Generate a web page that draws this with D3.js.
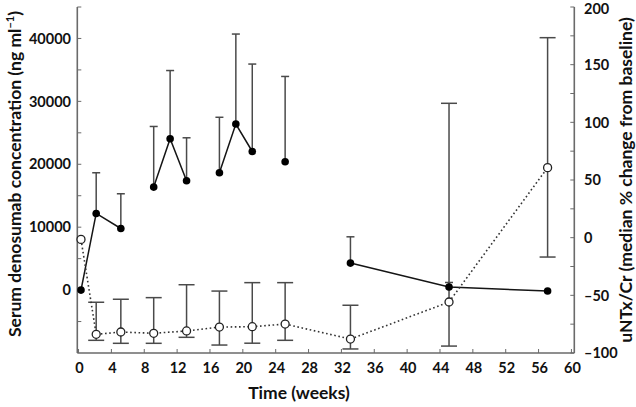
<!DOCTYPE html>
<html><head><meta charset="utf-8">
<script src="https://cdn.jsdelivr.net/npm/d3@7"></script>
<style>
body{margin:0;background:#fff}
svg{display:block}
text{font-family:Lato,'Open Sans',sans-serif;font-weight:bold;fill:#111}
</style>
</head><body>
<svg id="c" width="636" height="407"></svg>
<script>
// ---- data ----
const denoWeeks = [0.3, 2.15, 5.15, 9.15, 11.15, 13.15, 17.15, 19.15, 21.15, 25.15, 33.1, 45.1, 57.1];
const denosumab = [0, 12180, 9790, 16375, 24050, 17380, 18650, 26390, 22030, 20400, 4290, 480, -150];
const denosumabUpper = [null, 18650, 15310, 26010, 34900, 24210, 27470, 40700, 35930, 33960, 8470, 1210, null];
const denosumabSegment = [0, 0, 0, 1, 1, 1, 2, 2, 2, 3, 4, 4, 4];

const untxWeeks = [0.3, 2.15, 5.15, 9.15, 13.15, 17.15, 21.15, 25.15, 33.1, 45.1, 57.1];
const untx = [-1.5, -83.8, -81.8, -82.9, -80.9, -77.5, -77.2, -74.9, -87.9, -55.8, 60.7];
const untxLow = [null, -89, -91.6, -91.6, -86.4, -93.1, -91.5, -89, -96.5, -94, -16.8];
const untxHigh = [null, -56, -53.4, -52, -40.8, -46.3, -39, -39, -58.6, 116.5, 173.4];

const xTicks = d3.range(0, 61, 4);
const leftTicks = [0, 10000, 20000, 30000, 40000];
const leftMinor = d3.range(-5000, 45001, 5000);
const rightTicks = [-100, -50, 0, 50, 100, 150, 200];
const rightMinor = d3.range(-100, 201, 25);

const xTitle = "Time (weeks)";
const leftTitle = "Serum denosumab concentration (ng ml";
const rightTitle = "uNTx/Cr (median % change from baseline)";

// ---- layout ----
const svg = d3.select("#c");
const L = 77.3, R = 574.3, T = 7, B = 353;
const x = d3.scaleLinear().domain([-0.15, 60.35]).range([L, R]);
const yL = d3.scaleLinear().domain([-10000, 45000]).range([B, T]);
const yR = d3.scaleLinear().domain([-100, 200]).range([B, T]);

const axisCol = "#6a6a6a";
const ink = "#151515";
const errCol = "#4a4a4a";

// axes frame lines
const ax = svg.append("g").attr("stroke", axisCol).attr("stroke-width", 1.6).attr("fill", "none");
ax.append("line").attr("x1", L).attr("x2", L).attr("y1", T).attr("y2", B);
ax.append("line").attr("x1", R).attr("x2", R).attr("y1", T).attr("y2", B);
ax.append("line").attr("x1", L).attr("x2", R).attr("y1", B).attr("y2", B);

// ticks (inward)
const tk = svg.append("g").attr("stroke", axisCol).attr("stroke-width", 1);
leftMinor.forEach(v => tk.append("line").attr("x1", L).attr("x2", L + 4).attr("y1", yL(v)).attr("y2", yL(v)));
rightMinor.forEach(v => tk.append("line").attr("x1", R).attr("x2", R - 4).attr("y1", yR(v)).attr("y2", yR(v)));
xTicks.forEach(v => tk.append("line").attr("x1", x(v)).attr("x2", x(v)).attr("y1", B).attr("y2", B - 4));

// tick labels
const fs = 14.5;
leftTicks.forEach(v => svg.append("text").attr("x", 71).attr("y", yL(v)).attr("dy", "0.36em")
  .attr("text-anchor", "end").attr("font-size", fs).text(v));
rightTicks.forEach(v => svg.append("text").attr("x", 584).attr("y", Math.max(yR(v), 9)).attr("dy", "0.36em")
  .attr("text-anchor", "start").attr("font-size", fs).text(v < 0 ? "\u2013" + Math.abs(v) : v));
xTicks.forEach(v => svg.append("text").attr("x", x(v) + 1).attr("y", 368).attr("dy", "0.36em")
  .attr("text-anchor", "middle").attr("font-size", fs).text(v));

// titles
const tfs = 17.5;
svg.append("text").attr("x", 299).attr("y", 399).attr("text-anchor", "middle").attr("font-size", tfs).text(xTitle);
const lt = svg.append("text").attr("transform", "translate(21,174) rotate(-90)").attr("text-anchor", "middle").attr("font-size", tfs);
lt.append("tspan").text(leftTitle);
lt.append("tspan").attr("dy", -7).attr("font-size", 11).text("\u22121");
lt.append("tspan").attr("dy", 7).text(")");
svg.append("text").attr("transform", "translate(632,180) rotate(-90)").attr("text-anchor", "middle").attr("font-size", tfs).text(rightTitle);

// ---- marks ----
const den = denoWeeks.map((w, i) => ({w, v: denosumab[i], up: denosumabUpper[i], s: denosumabSegment[i]}));
const ut = untxWeeks.map((w, i) => ({w, v: untx[i], lo: untxLow[i], hi: untxHigh[i]}));

// error bars: uNTx (two-sided, wide caps)
const eb = svg.append("g").attr("stroke", errCol).attr("stroke-width", 1.5).attr("fill", "none");
ut.filter(d => d.hi != null).forEach(d => {
  const cx = x(d.w);
  eb.append("line").attr("x1", cx).attr("x2", cx).attr("y1", yR(d.lo)).attr("y2", yR(d.hi));
  eb.append("line").attr("x1", cx - 8).attr("x2", cx + 8).attr("y1", yR(d.lo)).attr("y2", yR(d.lo));
  eb.append("line").attr("x1", cx - 8).attr("x2", cx + 8).attr("y1", yR(d.hi)).attr("y2", yR(d.hi));
});
// error bars: denosumab (upper only, narrow caps)
den.filter(d => d.up != null).forEach(d => {
  const cx = x(d.w);
  eb.append("line").attr("x1", cx).attr("x2", cx).attr("y1", yL(d.v)).attr("y2", yL(d.up));
  eb.append("line").attr("x1", cx - 4).attr("x2", cx + 4).attr("y1", yL(d.up)).attr("y2", yL(d.up));
});

// denosumab solid line segments
const lineL = d3.line().x(d => x(d.w)).y(d => yL(d.v));
d3.groups(den, d => d.s).forEach(([k, pts]) => {
  if (pts.length > 1)
    svg.append("path").attr("d", lineL(pts)).attr("fill", "none").attr("stroke", ink).attr("stroke-width", 1.5);
});

// uNTx dotted line
const lineR = d3.line().x(d => x(d.w)).y(d => yR(d.v));
svg.append("path").attr("d", lineR(ut)).attr("fill", "none").attr("stroke", "#333")
  .attr("stroke-width", 1.6).attr("stroke-dasharray", "1.6,2.6");

// open circles
svg.append("g").selectAll("circle").data(ut).join("circle")
  .attr("cx", d => x(d.w)).attr("cy", d => yR(d.v)).attr("r", 4)
  .attr("fill", "#fff").attr("stroke", "#222").attr("stroke-width", 1.3);

// filled circles
svg.append("g").selectAll("circle").data(den).join("circle")
  .attr("cx", d => x(d.w)).attr("cy", d => yL(d.v)).attr("r", 3.8).attr("fill", "#000");
</script>
</body></html>
